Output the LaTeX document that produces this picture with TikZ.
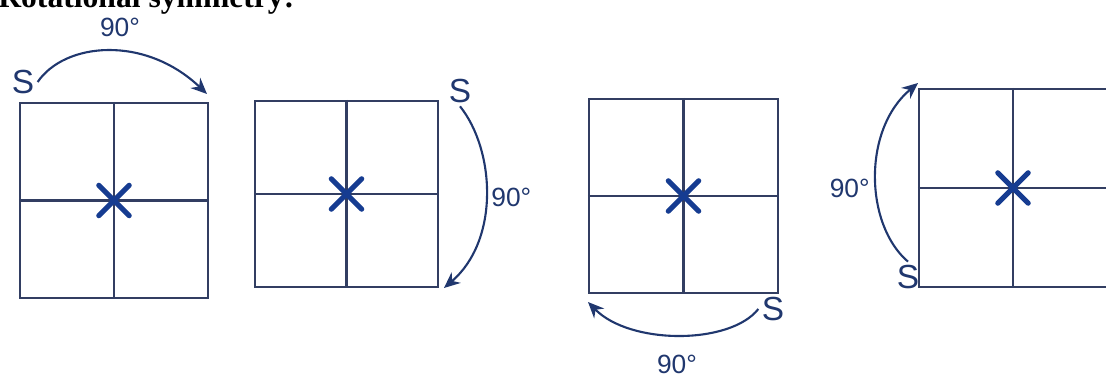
\documentclass[tikz,border=0pt]{standalone}
\usepackage{fontspec}
\setmainfont{Liberation Serif}
\setsansfont{Liberation Sans}
\usepackage{xcolor}
\usetikzlibrary{arrows.meta,positioning,shapes.misc}
\definecolor{gridnavy}{RGB}{50,62,98}
\definecolor{crossblue}{RGB}{22,60,145}
\definecolor{arcnavy}{RGB}{32,55,110}

\begin{document}
\begin{tikzpicture}[x=0.02cm, y=-0.02cm,
    gridsq/.style={rectangle, draw=gridnavy, line width=1.3pt, inner sep=0pt},
    gridline/.style={draw=gridnavy, line width=1.2pt},
    xmark/.style={cross out, draw=crossblue, line width=3pt, line cap=round,
        minimum size=0.5cm, inner sep=0pt},
    rotarr/.style={-{Stealth[length=3.2mm, width=2.8mm]}, line width=1.2pt, arcnavy},
    anglbl/.style={font=\sffamily\fontsize{15}{15}\selectfont, text=arcnavy, inner sep=0pt},
    startlbl/.style={font=\sffamily\fontsize{19}{19}\selectfont, text=arcnavy,
        inner sep=0pt, outer sep=2pt}
]
    \useasboundingbox (0,0) rectangle (1106,377);

    % heading, cut at the top
    \node[anchor=base west, inner sep=0pt, font=\bfseries\fontsize{18}{18}\selectfont]
        (title) at (-2,8) {Rotational symmetry:};

    % the four squares
    \node[gridsq, minimum width=3.76cm, minimum height=3.9cm]  (sq1) at (114,200.5) {};
    \node[gridsq, minimum width=3.66cm, minimum height=3.72cm] (sq2) at (346.5,194) {};
    \node[gridsq, minimum width=3.78cm, minimum height=3.88cm] (sq3) at (683.5,196) {};
    \node[gridsq, minimum width=3.76cm, minimum height=3.96cm] (sq4) at (1013,188) {};
    \foreach \s in {sq1,sq2,sq3,sq4} {
        \draw[gridline] (\s.north) -- (\s.south);
        \draw[gridline] (\s.west) -- (\s.east);
        \node[xmark] at (\s.center) {};
    }

    % first turn
    \node[startlbl] (st1) at (23,82) {S};
    \coordinate (end1) at (207,94);
    \draw[rotarr] (st1.east) .. controls (65,42) and (145,35) .. (end1);
    \node[anglbl] (ang1) at (120,27) {90°};

    % second turn
    \node[startlbl] (st2) at (460,91) {S};
    \coordinate (end2) at (444,288);
    \draw[rotarr] (st2.south) .. controls (495,150) and (500,240) .. (end2);
    \node[anglbl, anchor=west] (ang2) at (491,197) {90°};

    % third turn
    \node[startlbl] (st3) at (773,309) {S};
    \coordinate (end3) at (588,302);
    \draw[rotarr] (st3.west) .. controls (730,345) and (630,345) .. (end3);
    \node[anglbl] (ang3) at (677,364) {90°};

    % fourth turn
    \node[startlbl] (st4) at (908,277) {S};
    \coordinate (end4) at (918,83);
    \draw[rotarr] (st4.north) .. controls (865,225) and (862,130) .. (end4);
    \node[anglbl, anchor=east] (ang4) at (870,188) {90°};
\end{tikzpicture}
\end{document}
